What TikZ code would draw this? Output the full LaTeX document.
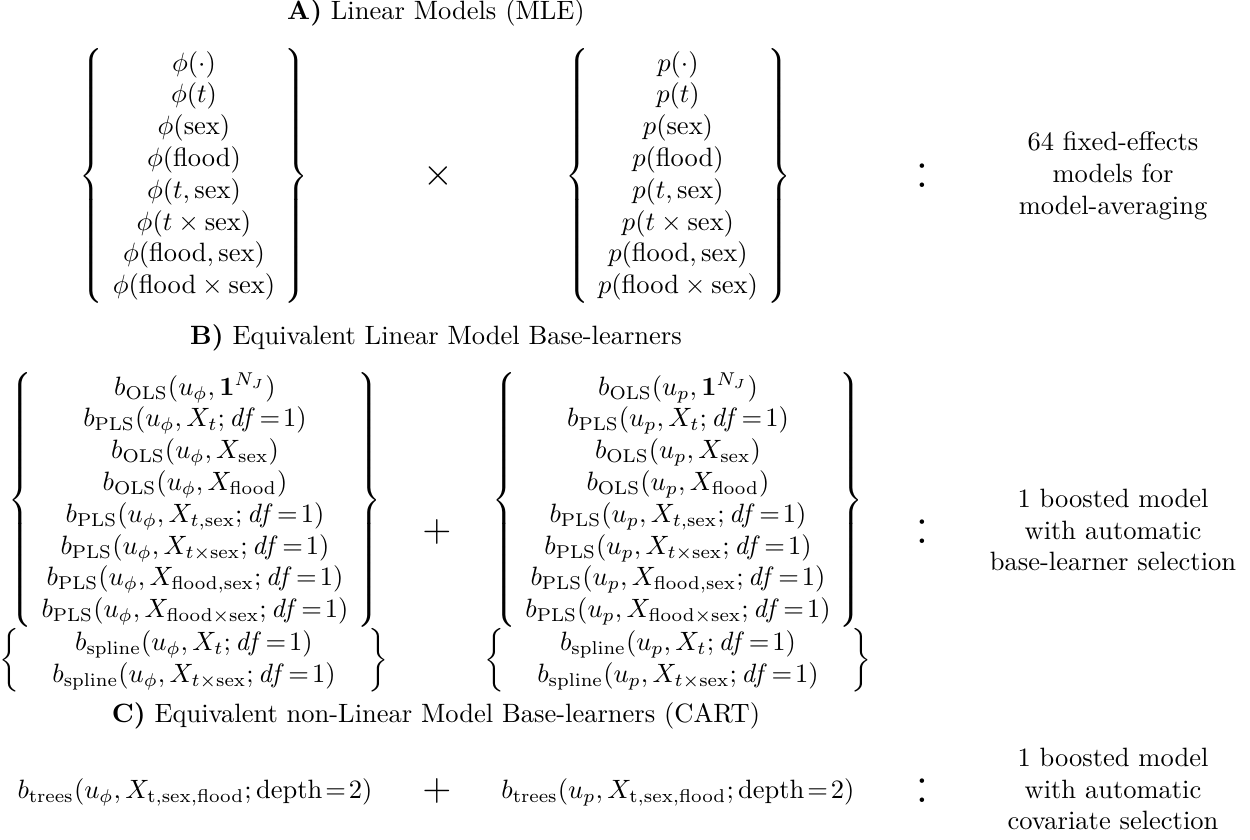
\documentclass[tikz,border=0pt]{standalone}
\usepackage{amsmath}
\usepackage{array}
\newcommand{\bOLS}{b_{\mathrm{OLS}}}
\newcommand{\bPLS}{b_{\mathrm{PLS}}}
\newcommand{\bSPL}{b_{\mathrm{spline}}}
\newcommand{\bTRS}{b_{\mathrm{trees}}}
\newcommand{\dfone}{\mathit{df}\!=\!1}
\newcommand{\sx}{\mathrm{sex}}
\newcommand{\fl}{\mathrm{flood}}
\setlength{\arraycolsep}{3.5pt}
\tikzset{
  every node/.style={inner sep=0pt, outer sep=0pt},
  title/.style={anchor=base},
  opsym/.style={font=\Large},
  bigcolon/.style={font=\huge},
  note/.style={align=center},
  formula/.style={anchor=base}
}
\begin{document}
\begin{tikzpicture}[x=0.37736pt,y=-0.37736pt]
\useasboundingbox (0,0) rectangle (1250,839);
% ---------- A ----------
\node[title] (titleA) at (436,19) {\textbf{A)} Linear Models (MLE)};
\node (setphi) at (194,176) {$\left\{\begin{array}{c}
\phi(\cdot)\\ \phi(t)\\ \phi(\sx)\\ \phi(\fl)\\ \phi(t,\sx)\\ \phi(t\times\sx)\\ \phi(\fl,\sx)\\ \phi(\fl\times\sx)
\end{array}\right\}$};
\node[opsym] (times) at (438,176) {$\times$};
\node (setp) at (678,176) {$\left\{\begin{array}{c}
p(\cdot)\\ p(t)\\ p(\sx)\\ p(\fl)\\ p(t,\sx)\\ p(t\times\sx)\\ p(\fl,\sx)\\ p(\fl\times\sx)
\end{array}\right\}$};
\node[bigcolon] (colA) at (922,176) {:};
\node[note] (noteA) at (1113,176) {64 fixed-effects\\ models for\\ model-averaging};
% ---------- B ----------
\node[title] (titleB) at (436,344) {\textbf{B)} Equivalent Linear Model Base-learners};
\node (BLtop) at (195,500) {$\left\{\begin{array}{c}
\bOLS(u_\phi,\mathbf{1}^{N_J})\\
\bPLS(u_\phi,X_t;\dfone)\\
\bOLS(u_\phi,X_{\sx})\\
\bOLS(u_\phi,X_{\fl})\\
\bPLS(u_\phi,X_{t,\sx};\dfone)\\
\bPLS(u_\phi,X_{t\times\sx};\dfone)\\
\bPLS(u_\phi,X_{\fl,\sx};\dfone)\\
\bPLS(u_\phi,X_{\fl\times\sx};\dfone)
\end{array}\right\}$};
\node (BLbot) at (194,660) {$\left\{\begin{array}{@{\hspace{12.5pt}}c@{\hspace{12.5pt}}}
\bSPL(u_\phi,X_t;\dfone)\\
\bSPL(u_\phi,X_{t\times\sx};\dfone)
\end{array}\right\}$};
\node[opsym] (plusB) at (437,532) {$+$};
\node (BRtop) at (678,500) {$\left\{\begin{array}{c}
\bOLS(u_p,\mathbf{1}^{N_J})\\
\bPLS(u_p,X_t;\dfone)\\
\bOLS(u_p,X_{\sx})\\
\bOLS(u_p,X_{\fl})\\
\bPLS(u_p,X_{t,\sx};\dfone)\\
\bPLS(u_p,X_{t\times\sx};\dfone)\\
\bPLS(u_p,X_{\fl,\sx};\dfone)\\
\bPLS(u_p,X_{\fl\times\sx};\dfone)
\end{array}\right\}$};
\node (BRbot) at (678,660) {$\left\{\begin{array}{@{\hspace{12.5pt}}c@{\hspace{12.5pt}}}
\bSPL(u_p,X_t;\dfone)\\
\bSPL(u_p,X_{t\times\sx};\dfone)
\end{array}\right\}$};
\node[bigcolon] (colB) at (922,532) {:};
\node[note] (noteB) at (1113,530) {1 boosted model\\ with automatic\\ base-learner selection};
% ---------- C ----------
\node[title] (titleC) at (436,722) {\textbf{C)} Equivalent non-Linear Model Base-learners (CART)};
\node[formula] (treesphi) at (195,798) {$\bTRS(u_\phi,X_{\mathrm{t,sex,flood}};\mathrm{depth}\!=\!2)$};
\node[opsym] (plusC) at (437,791) {$+$};
\node[formula] (treesp) at (678,798) {$\bTRS(u_p,X_{\mathrm{t,sex,flood}};\mathrm{depth}\!=\!2)$};
\node[bigcolon] (colC) at (922,791) {:};
\node[note] (noteC) at (1113,789) {1 boosted model\\ with automatic\\ covariate selection};
\end{tikzpicture}
\end{document}
